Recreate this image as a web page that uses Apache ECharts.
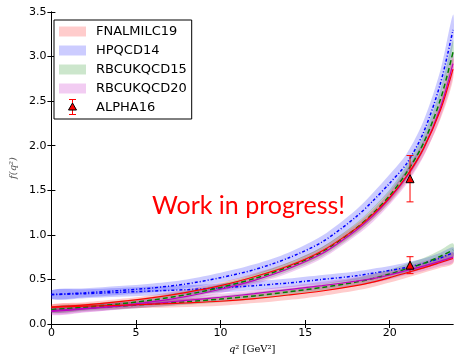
<!DOCTYPE html>
<html>
<head>
<meta charset="utf-8">
<script src="https://cdn.jsdelivr.net/npm/echarts@6/dist/echarts.min.js"></script>
<style>html,body{margin:0;padding:0;background:#fff}#main{width:455px;height:359px}</style>
</head>
<body>
<div id="main"></div>
<script>
// q^2 sample points (GeV^2)
var q2 = [0, 2, 4, 6, 8, 10, 12, 14, 16, 18, 19, 20, 21, 22, 23, 23.74];

// f+ central values and half widths
var fplusFNAL    = [0.19, 0.215, 0.25, 0.295, 0.355, 0.43, 0.53, 0.65, 0.82, 1.07, 1.23, 1.42, 1.66, 1.97, 2.40, 2.86];
var fplusFNALerr = [0.03, 0.03, 0.03, 0.03, 0.035, 0.035, 0.04, 0.04, 0.045, 0.05, 0.055, 0.06, 0.07, 0.08, 0.10, 0.12];
var fplusHPQCD    = [0.33, 0.35, 0.375, 0.405, 0.45, 0.52, 0.61, 0.74, 0.92, 1.20, 1.38, 1.58, 1.80, 2.15, 2.70, 3.30];
var fplusHPQCDerr = [0.05, 0.05, 0.05, 0.05, 0.05, 0.055, 0.06, 0.06, 0.07, 0.08, 0.09, 0.10, 0.11, 0.13, 0.15, 0.17];
var fplusRBC15    = [0.16, 0.19, 0.225, 0.27, 0.33, 0.41, 0.51, 0.64, 0.81, 1.07, 1.24, 1.44, 1.70, 2.03, 2.52, 3.05];
var fplusRBC15err = [0.035, 0.035, 0.035, 0.035, 0.04, 0.04, 0.045, 0.05, 0.055, 0.06, 0.065, 0.07, 0.08, 0.09, 0.11, 0.13];
var fplusRBC20    = [0.14, 0.17, 0.205, 0.25, 0.31, 0.39, 0.49, 0.62, 0.79, 1.05, 1.21, 1.41, 1.65, 1.97, 2.43, 2.92];
var fplusRBC20err = [0.04, 0.04, 0.04, 0.04, 0.04, 0.045, 0.045, 0.05, 0.055, 0.06, 0.065, 0.07, 0.08, 0.09, 0.11, 0.13];

// f0 central values and half widths
var fzeroFNAL    = [0.19, 0.20, 0.21, 0.222, 0.237, 0.255, 0.285, 0.325, 0.37, 0.43, 0.47, 0.52, 0.575, 0.63, 0.69, 0.735];
var fzeroFNALerr = [0.03, 0.03, 0.035, 0.04, 0.045, 0.05, 0.05, 0.055, 0.055, 0.055, 0.055, 0.055, 0.055, 0.055, 0.06, 0.06];
var fzeroHPQCD    = [0.33, 0.34, 0.355, 0.37, 0.385, 0.405, 0.43, 0.46, 0.50, 0.54, 0.57, 0.60, 0.635, 0.68, 0.74, 0.80];
var fzeroHPQCDerr = [0.05, 0.05, 0.05, 0.05, 0.05, 0.05, 0.05, 0.05, 0.05, 0.05, 0.05, 0.05, 0.055, 0.055, 0.06, 0.06];
var fzeroRBC15    = [0.16, 0.18, 0.20, 0.225, 0.25, 0.28, 0.315, 0.36, 0.41, 0.47, 0.51, 0.56, 0.62, 0.68, 0.76, 0.83];
var fzeroRBC15err = [0.035, 0.035, 0.035, 0.035, 0.035, 0.035, 0.04, 0.04, 0.04, 0.045, 0.05, 0.05, 0.055, 0.06, 0.07, 0.075];
var fzeroRBC20    = [0.15, 0.175, 0.20, 0.23, 0.265, 0.30, 0.34, 0.385, 0.43, 0.48, 0.51, 0.55, 0.60, 0.65, 0.705, 0.75];
var fzeroRBC20err = [0.04, 0.04, 0.04, 0.04, 0.04, 0.04, 0.04, 0.04, 0.045, 0.045, 0.05, 0.05, 0.05, 0.055, 0.055, 0.06];

// ALPHA16 points
var alphaQ2  = [21.2, 21.2];
var alphaVal = [1.63, 0.66];
var alphaLo  = [1.37, 0.565];
var alphaHi  = [1.89, 0.755];

var xTicks = [0, 5, 10, 15, 20];

var chart = echarts.init(document.getElementById('main'));

function bandData(c, e) {
  return q2.map(function (x, i) { return [x, c[i] - e[i], c[i] + e[i]]; });
}
function lineData(c) {
  return q2.map(function (x, i) { return [x, c[i]]; });
}

function renderBand(params, api) {
  if (params.dataIndexInside !== 0) return null;
  var n = params.dataInsideLength, top = [], bot = [];
  for (var i = 0; i < n; i++) {
    top.push(api.coord([api.value(0, i), api.value(2, i)]));
    bot.unshift(api.coord([api.value(0, i), api.value(1, i)]));
  }
  return {
    type: 'polygon',
    shape: { points: top.concat(bot), smooth: 0.3 },
    style: { fill: api.visual('color'), stroke: null }
  };
}

function band(name, c, e, fill) {
  return {
    type: 'custom', name: name, renderItem: renderBand, clip: true,
    itemStyle: { color: fill }, data: bandData(c, e), silent: true, z: 1
  };
}

function curve(c, color, width, dash) {
  return {
    type: 'line', data: lineData(c), symbol: 'none', smooth: 0.3, silent: true, z: 3,
    lineStyle: { color: color, width: width, type: dash }
  };
}

var red = 'rgba(255,0,0,0.2)', blue = 'rgba(0,0,255,0.2)',
    green = 'rgba(0,128,0,0.2)', mag = 'rgba(191,0,191,0.2)';

var series = [
  band('FNALMILC19', fplusFNAL, fplusFNALerr, red),
  band('FNALMILC19', fzeroFNAL, fzeroFNALerr, red),
  band('HPQCD14', fplusHPQCD, fplusHPQCDerr, blue),
  band('HPQCD14', fzeroHPQCD, fzeroHPQCDerr, blue),
  band('RBCUKQCD15', fplusRBC15, fplusRBC15err, green),
  band('RBCUKQCD15', fzeroRBC15, fzeroRBC15err, green),
  band('RBCUKQCD20', fplusRBC20, fplusRBC20err, mag),
  band('RBCUKQCD20', fzeroRBC20, fzeroRBC20err, mag),
  curve(fplusHPQCD, '#0000ff', 1.5, [3, 2, 1, 2]),
  curve(fzeroHPQCD, '#0000ff', 1.5, [3, 2, 1, 2]),
  curve(fplusRBC15, '#008000', 1.5, [5, 3]),
  curve(fzeroRBC15, '#008000', 1.5, [5, 3]),
  curve(fplusRBC20, '#bf00bf', 1.2, 'solid'),
  curve(fzeroRBC20, '#bf00bf', 1.2, 'solid'),
  curve(fplusFNAL, '#ff0000', 1.2, 'solid'),
  curve(fzeroFNAL, '#ff0000', 1.2, 'solid'),
  {
    type: 'custom', name: 'ALPHA16', z: 5, silent: true,
    data: alphaQ2.map(function (x, i) { return [x, alphaLo[i], alphaHi[i]]; }),
    renderItem: function (params, api) {
      var x = api.value(0);
      var lo = api.coord([x, api.value(1)]), hi = api.coord([x, api.value(2)]);
      var c = 3.5, s = { stroke: '#ff0000', lineWidth: 1 };
      return { type: 'group', children: [
        { type: 'line', shape: { x1: lo[0], y1: lo[1], x2: hi[0], y2: hi[1] }, style: s },
        { type: 'line', shape: { x1: lo[0] - c, y1: lo[1], x2: lo[0] + c, y2: lo[1] }, style: s },
        { type: 'line', shape: { x1: hi[0] - c, y1: hi[1], x2: hi[0] + c, y2: hi[1] }, style: s }
      ] };
    }
  },
  {
    type: 'scatter', name: 'ALPHA16', z: 6, silent: true, symbol: 'triangle', symbolSize: 8,
    itemStyle: { color: '#ff0000', borderColor: '#000', borderWidth: 1, opacity: 1 },
    data: alphaQ2.map(function (x, i) { return [x, alphaVal[i]]; })
  }
];

var tickFont = { fontFamily: 'DejaVu Sans', fontSize: 11, color: '#000' };
var mx = 72.5, my = 107;
var barStyle = { stroke: '#ff0000', lineWidth: 1 };

var option = {
  backgroundColor: '#fff',
  animation: false,
  grid: { left: 47, right: 2, top: 12, bottom: 31 },
  xAxis: [{
    type: 'value', min: 0, max: 23.74, interval: 5,
    name: '{i|q}{n|² [GeV²]}', nameLocation: 'middle', nameGap: 20,
    nameTextStyle: { rich: {
      i: { fontFamily: 'DejaVu Serif', fontStyle: 'italic', fontSize: 10, color: '#000' },
      n: { fontFamily: 'DejaVu Serif', fontSize: 10, color: '#000' } } },
    axisLine: { show: true, lineStyle: { color: '#000', width: 1 } },
    axisTick: { show: true, inside: true, length: 4, customValues: xTicks, lineStyle: { color: '#000' } },
    axisLabel: Object.assign({ margin: 4, customValues: xTicks }, tickFont),
    splitLine: { show: false }
  }, {
    type: 'value', position: 'top', min: 0, max: 23.74, interval: 5,
    axisLine: { show: true, lineStyle: { color: '#000', width: 1 } },
    axisTick: { show: true, inside: true, length: 4, customValues: xTicks, lineStyle: { color: '#000' } },
    axisLabel: { show: false }, splitLine: { show: false }
  }],
  yAxis: [{
    type: 'value', min: 0, max: 3.5, interval: 0.5,
    name: 'f(q²)', nameLocation: 'middle', nameGap: 24, nameRotate: 90,
    nameTextStyle: { fontFamily: 'DejaVu Serif', fontStyle: 'italic', fontSize: 10, color: '#555' },
    axisLine: { show: true, lineStyle: { color: '#000', width: 1 } },
    axisTick: { show: true, inside: true, length: 4, lineStyle: { color: '#000' } },
    axisLabel: Object.assign({ margin: 5, formatter: function (v) { return v.toFixed(1); } }, tickFont),
    splitLine: { show: false }
  }, {
    type: 'value', position: 'right', min: 0, max: 3.5, interval: 0.5,
    axisLine: { show: true, lineStyle: { color: '#000', width: 1 } },
    axisTick: { show: true, inside: true, length: 4, lineStyle: { color: '#000' } },
    axisLabel: { show: false }, splitLine: { show: false }
  }],
  legend: {
    orient: 'vertical', left: 54, top: 20, padding: [5, 5, 5, 5],
    itemWidth: 27, itemHeight: 10, itemGap: 6,
    backgroundColor: '#fff', borderColor: '#000', borderWidth: 1, borderRadius: 0,
    selectedMode: false,
    textStyle: { fontFamily: 'DejaVu Sans', fontSize: 13, color: '#000', padding: [0, 0, 0, 5] },
    data: [
      { name: 'FNALMILC19', icon: 'rect', itemStyle: { color: '#ffcccc' } },
      { name: 'HPQCD14', icon: 'rect', itemStyle: { color: '#ccccff' } },
      { name: 'RBCUKQCD15', icon: 'rect', itemStyle: { color: '#cce6cc' } },
      { name: 'RBCUKQCD20', icon: 'rect', itemStyle: { color: '#f2ccf2' } },
      { name: 'ALPHA16', icon: 'rect', itemStyle: { opacity: 0 } }
    ]
  },
  graphic: [
    { type: 'text', left: 152, top: 193, z: 10, silent: true,
      style: { text: 'Work in progress!', fill: '#ff0000', font: '25px Lato' } },
    // ALPHA16 legend key: error bar with triangle marker
    { type: 'line', z: 50, silent: true, shape: { x1: mx, y1: my - 7.5, x2: mx, y2: my + 7.5 }, style: barStyle },
    { type: 'line', z: 50, silent: true, shape: { x1: mx - 3.5, y1: my - 7.5, x2: mx + 3.5, y2: my - 7.5 }, style: barStyle },
    { type: 'line', z: 50, silent: true, shape: { x1: mx - 3.5, y1: my + 7.5, x2: mx + 3.5, y2: my + 7.5 }, style: barStyle },
    { type: 'polygon', z: 51, silent: true, shape: { points: [[mx, my - 4], [mx + 4, my + 3], [mx - 4, my + 3]] },
      style: { fill: '#ff0000', stroke: '#000', lineWidth: 1 } }
  ],
  series: series
};

chart.setOption(option);
</script>
</body>
</html>
